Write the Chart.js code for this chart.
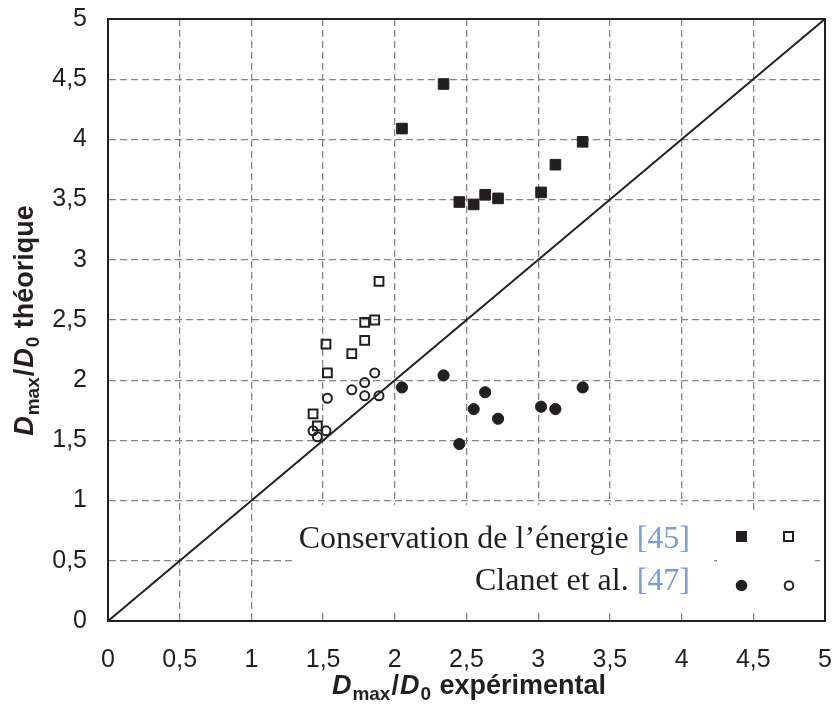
<!DOCTYPE html>
<html lang="fr">
<head>
  <meta charset="UTF-8" />
  <title>Dmax/D0 théorique vs expérimental</title>
  <script src="https://cdn.jsdelivr.net/npm/chart.js"></script>
  <style>
    body { margin: 0; background: #fff; }
    canvas { display: block; }
  </style>
</head>
<body>
  <canvas id="chart" width="835" height="704"></canvas>

  <script>
    // axis ticks (values and their French labels)
    const tickValues = [0, 0.5, 1, 1.5, 2, 2.5, 3, 3.5, 4, 4.5, 5];
    const tickLabels = ['0', '0,5', '1', '1,5', '2', '2,5', '3', '3,5', '4', '4,5', '5'];

    // experimental Dmax/D0 (filled markers and open markers share their x values)
    const filledExpX = [2.05, 2.34, 2.45, 2.55, 2.63, 2.72, 3.02, 3.12, 3.31];
    const openExpX   = [1.43, 1.46, 1.52, 1.53, 1.70, 1.79, 1.79, 1.86, 1.89];

    // theoretical Dmax/D0 - conservation de l'énergie [45]
    const energyFilledY = [4.09, 4.46, 3.48, 3.46, 3.54, 3.51, 3.56, 3.79, 3.98];
    const energyOpenY   = [1.72, 1.62, 2.30, 2.06, 2.22, 2.48, 2.33, 2.50, 2.82];

    // theoretical Dmax/D0 - Clanet et al. [47]
    const clanetFilledY = [1.94, 2.04, 1.47, 1.76, 1.90, 1.68, 1.78, 1.76, 1.94];
    const clanetOpenY   = [1.58, 1.53, 1.58, 1.85, 1.92, 1.98, 1.87, 2.06, 1.87];

    // y = x reference line
    const diagX = [0, 5];
    const diagY = [0, 5];

    const INK = '#231f20';
    const REF_BLUE = '#7d9bd4';

    const pts = (xs, ys) => xs.map((x, i) => ({ x: x, y: ys[i] }));

    // legend + frame + axis titles with subscripts
    const decorations = {
      id: 'decorations',
      beforeDatasetsDraw(chart) {
        const ctx = chart.ctx;
        ctx.save();
        // white boxes behind the legend hide the grid
        ctx.fillStyle = '#fff';
        ctx.fillRect(294, 505, 419, 108);
        ctx.fillRect(717, 512, 98, 97);

        // legend text
        ctx.textBaseline = 'alphabetic';
        ctx.font = '32px "Liberation Serif", "Times New Roman", serif';
        const rows = [
          { txt: 'Conservation de l\u2019\u00e9nergie ', ref: '[45]', y: 548 },
          { txt: 'Clanet et al. ', ref: '[47]', y: 590 }
        ];
        rows.forEach(r => {
          const refW = ctx.measureText(r.ref).width;
          ctx.textAlign = 'right';
          ctx.fillStyle = REF_BLUE;
          ctx.fillText(r.ref, 690, r.y);
          ctx.fillStyle = INK;
          ctx.fillText(r.txt, 690 - refW, r.y);
        });

        // legend markers
        ctx.fillStyle = INK;
        ctx.strokeStyle = INK;
        ctx.lineWidth = 2;
        ctx.fillRect(736, 531, 11, 11);
        ctx.strokeRect(784, 532, 9, 9);
        ctx.beginPath();
        ctx.arc(741.5, 585.5, 5.8, 0, Math.PI * 2);
        ctx.fill();
        ctx.beginPath();
        ctx.arc(789, 585.5, 4.3, 0, Math.PI * 2);
        ctx.stroke();
        ctx.restore();
      },
      afterDraw(chart) {
        const ctx = chart.ctx;
        const a = chart.chartArea;
        ctx.save();
        ctx.strokeStyle = INK;
        ctx.lineWidth = 2;
        ctx.strokeRect(a.left, a.top, a.right - a.left, a.bottom - a.top);

        // axis title: parts of (text, font, dy)
        const big = 'bold 27px "Liberation Sans", Arial, sans-serif';
        const bigIt = 'italic bold 27px "Liberation Sans", Arial, sans-serif';
        const small = 'bold 19px "Liberation Sans", Arial, sans-serif';
        const makeParts = word => [
          ['D', bigIt, 0], ['max', small, 6], ['/', big, 0],
          ['D', bigIt, 0], ['0', small, 6], [' ' + word, big, 0]
        ];
        const drawTitle = (parts, cx, baseY) => {
          let w = 0;
          parts.forEach(p => { ctx.font = p[1]; w += ctx.measureText(p[0]).width + 1; });
          let x = cx - w / 2;
          ctx.fillStyle = INK;
          ctx.textAlign = 'left';
          ctx.textBaseline = 'alphabetic';
          parts.forEach(p => {
            ctx.font = p[1];
            ctx.fillText(p[0], x, baseY + p[2]);
            x += ctx.measureText(p[0]).width + 1;
          });
        };
        drawTitle(makeParts('exp\u00e9rimental'), (a.left + a.right) / 2 + 3, 694);

        ctx.translate(33, (a.top + a.bottom) / 2);
        ctx.rotate(-Math.PI / 2);
        drawTitle(makeParts('th\u00e9orique'), 0, 0);
        ctx.restore();
      }
    };

    const tickFont = { family: '"Liberation Sans", Arial, sans-serif', size: 25 };
    const axisCommon = {
      type: 'linear',
      min: 0,
      max: 5,
      ticks: {
        stepSize: 0.5,
        color: INK,
        font: tickFont,
        callback: v => tickLabels[tickValues.indexOf(v)]
      },
      grid: { color: '#858585', lineWidth: 1.3, drawTicks: false },
      border: { display: true, color: INK, width: 2, dash: [7, 4] }
    };

    new Chart(document.getElementById('chart'), {
      data: {
        datasets: [
          {
            type: 'line',
            data: pts(diagX, diagY),
            borderColor: INK,
            borderWidth: 2,
            pointRadius: 0,
            fill: false
          },
          {
            type: 'scatter',
            data: pts(filledExpX, energyFilledY),
            pointStyle: 'rect',
            pointRadius: 7.5,
            backgroundColor: INK,
            borderColor: INK,
            borderWidth: 1
          },
          {
            type: 'scatter',
            data: pts(openExpX, energyOpenY),
            pointStyle: 'rect',
            pointRadius: 6.2,
            backgroundColor: 'rgba(0,0,0,0)',
            borderColor: INK,
            borderWidth: 2
          },
          {
            type: 'scatter',
            data: pts(filledExpX, clanetFilledY),
            pointStyle: 'circle',
            pointRadius: 5.6,
            backgroundColor: INK,
            borderColor: INK,
            borderWidth: 1
          },
          {
            type: 'scatter',
            data: pts(openExpX, clanetOpenY),
            pointStyle: 'circle',
            pointRadius: 4.5,
            backgroundColor: 'rgba(0,0,0,0)',
            borderColor: INK,
            borderWidth: 2
          }
        ]
      },
      options: {
        responsive: false,
        animation: false,
        devicePixelRatio: 1,
        layout: { padding: { top: 19, right: 10, left: 0, bottom: 0 } },
        plugins: {
          legend: { display: false },
          tooltip: { enabled: false }
        },
        scales: {
          x: Object.assign({}, axisCommon, {
            position: 'bottom',
            ticks: Object.assign({}, axisCommon.ticks, { padding: 24, maxRotation: 0, autoSkip: false }),
            afterFit: s => { s.height = 83; s.paddingLeft = 0; s.paddingRight = 0; }
          }),
          y: Object.assign({}, axisCommon, {
            position: 'left',
            ticks: Object.assign({}, axisCommon.ticks, { padding: 21, autoSkip: false }),
            afterFit: s => { s.width = 108; s.paddingTop = 0; s.paddingBottom = 0; }
          })
        }
      },
      plugins: [decorations]
    });
  </script>
</body>
</html>
